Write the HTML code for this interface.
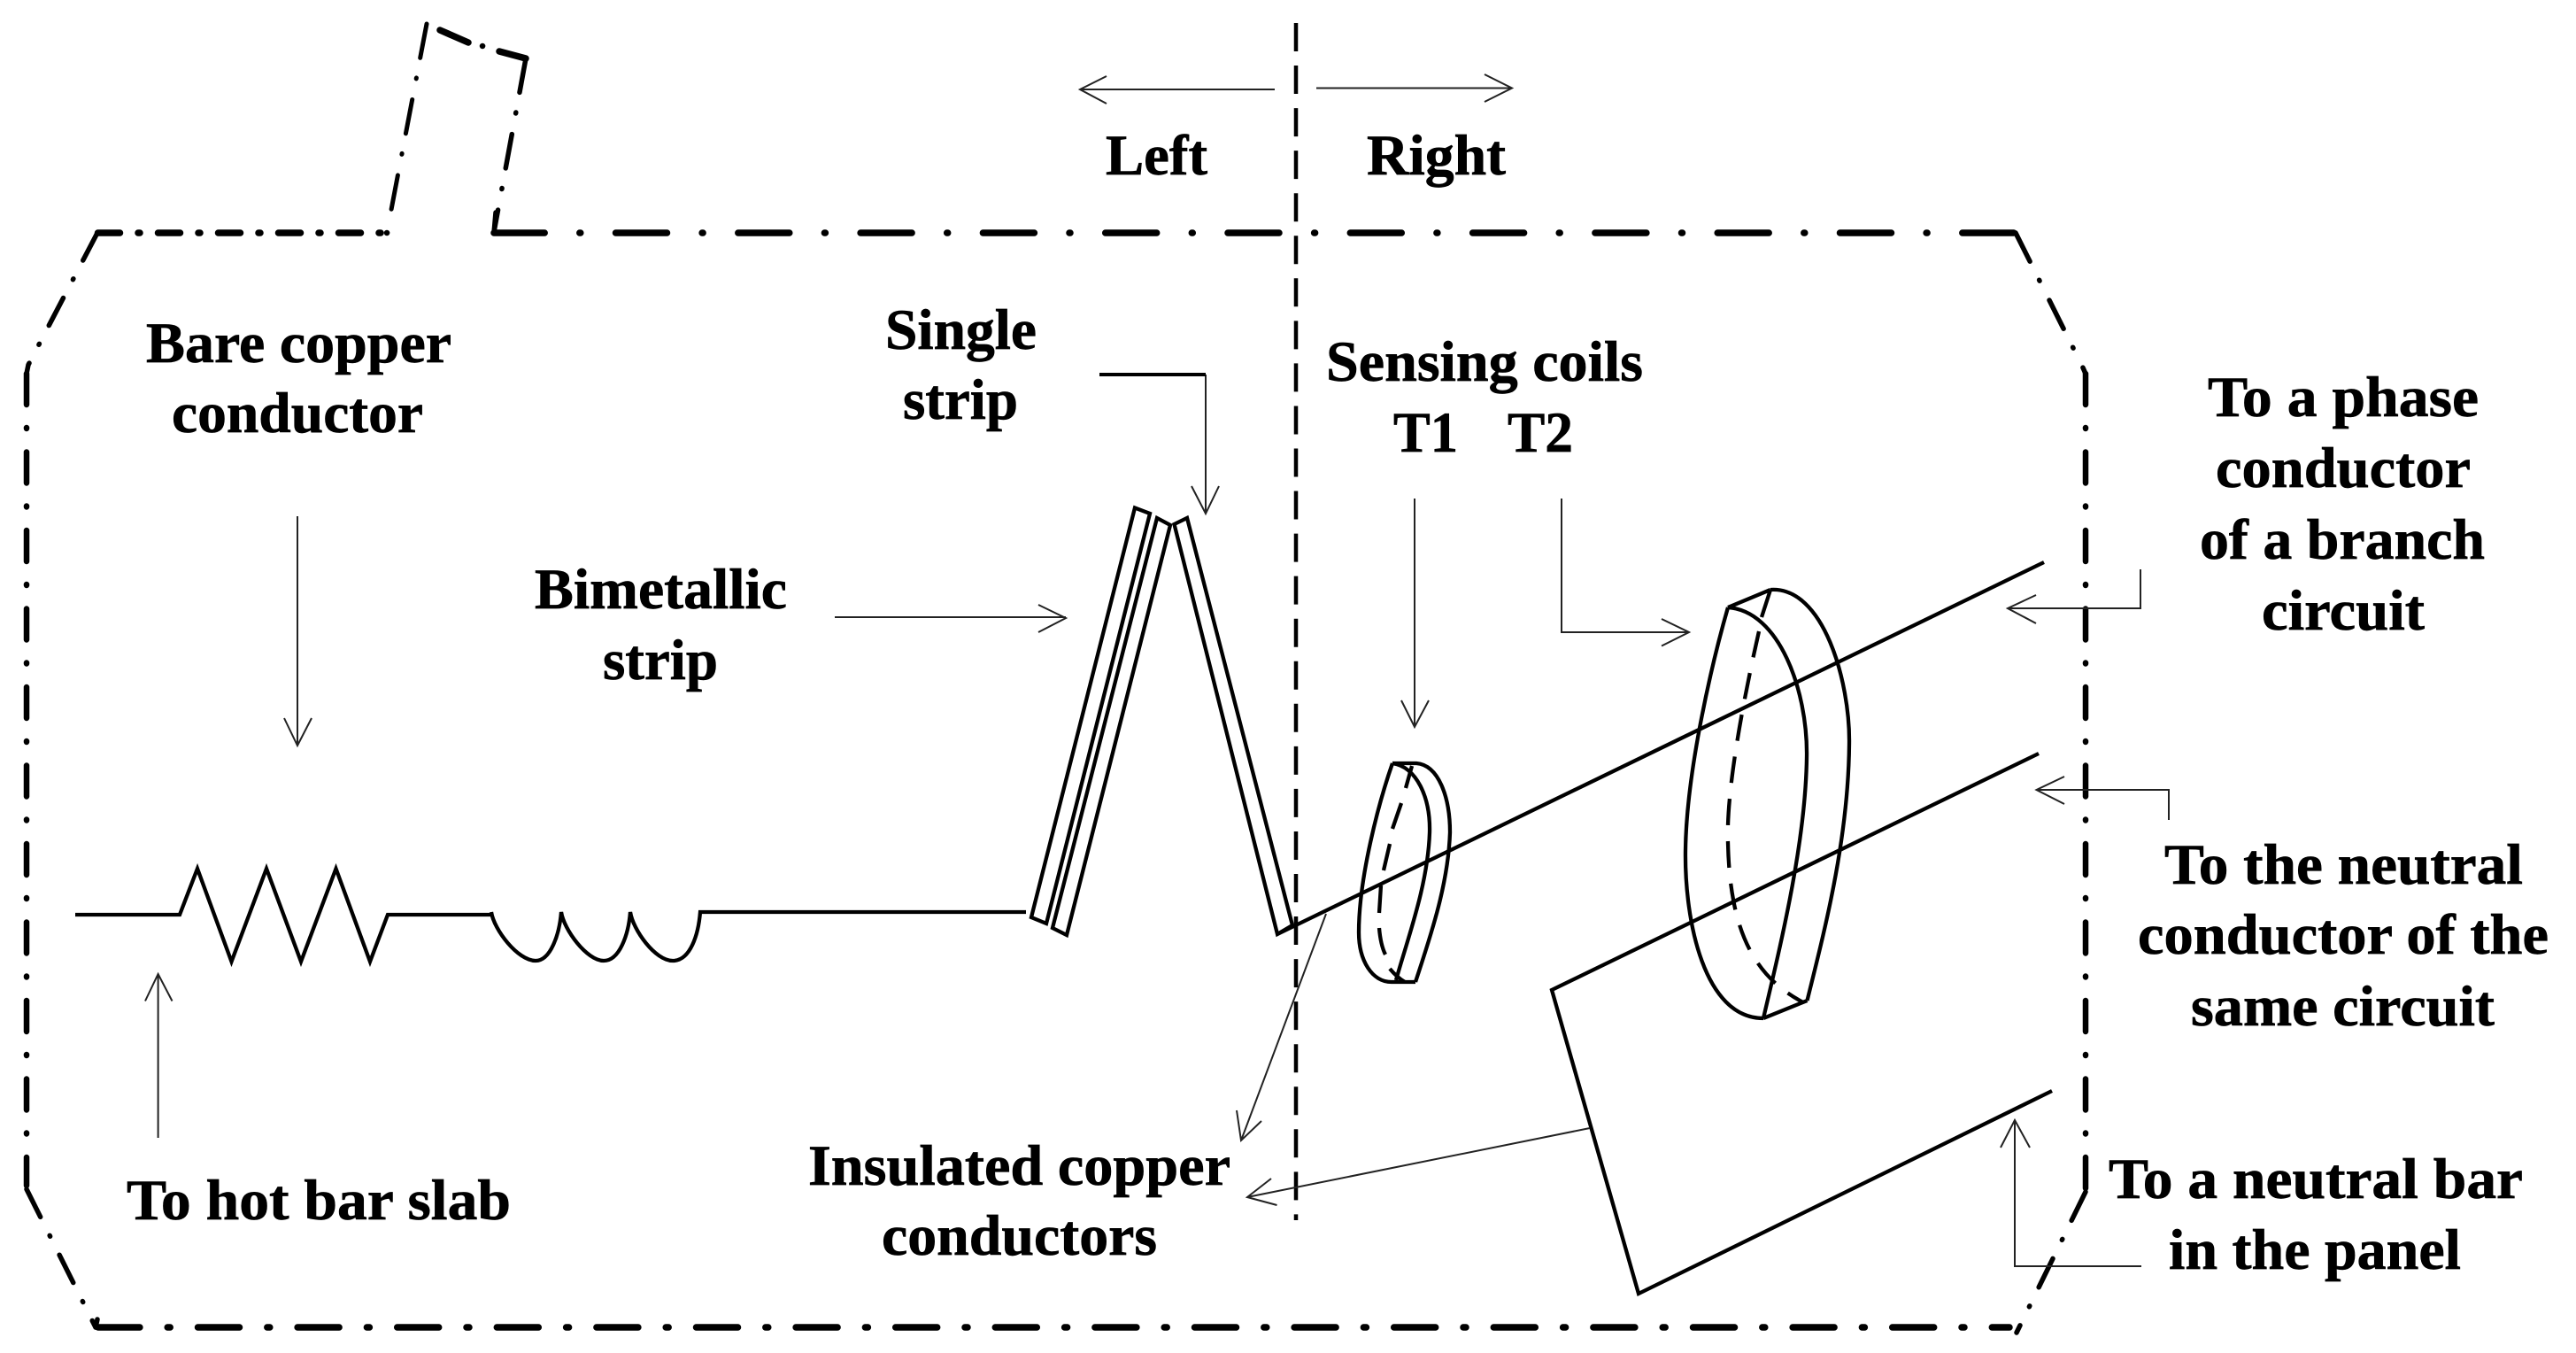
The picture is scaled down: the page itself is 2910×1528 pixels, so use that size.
<!DOCTYPE html>
<html lang="en">
<head>
<meta charset="utf-8">
<title>Diagram</title>
<style>
html,body{margin:0;padding:0;background:#fff;}
svg{display:block;}
text{font-family:"Liberation Serif",serif;font-weight:bold;font-size:65px;fill:#000;stroke:#000;stroke-width:0.7;}
.w{fill:none;stroke:#000;stroke-width:4.3;stroke-linejoin:miter;}
.a{fill:none;stroke:#222;stroke-width:2;}
.f{fill:none;stroke:#000;stroke-linecap:round;}
</style>
</head>
<body>
<svg xmlns="http://www.w3.org/2000/svg" width="2910" height="1528" viewBox="0 0 2910 1528">
<rect width="2910" height="1528" fill="#fff"/>

<!-- enclosure -->
<g class="f">
<path d="M558 263H2277" stroke-width="7.5" stroke-dasharray="58 39.6 1 39.7" stroke-dashoffset="0.8"/>
<path d="M110.5 263H430" stroke-width="7.5" stroke-dasharray="25 20.5 2 20.5"/>
<path d="M437 263h0.1" stroke-width="6.5"/>
<path d="M110.9 1499H2270" stroke-width="7.5" stroke-dasharray="47 31.3 3 31.3"/>
<path d="M108 1499L110 1490" stroke-width="5.5"/>
<path d="M30 422V1339" stroke-width="6.5" stroke-dasharray="35 26 1 26.5"/>
<path d="M2356 422V1346" stroke-width="6.5" stroke-dasharray="35 26 1 26.5"/>
<path d="M110 263L32 412L30 422" stroke-width="5.5" stroke-dasharray="35 23.5 1 23.5"/>
<path d="M30 1343L108 1499" stroke-width="5.5" stroke-dasharray="35 23.5 1 23.5"/>
<path d="M2277 263L2352 413L2356 422" stroke-width="5.5" stroke-dasharray="36 23.5 1 24.5"/>
<path d="M2356 1346L2278 1505" stroke-width="5.5" stroke-dasharray="36 23.5 1 23.5"/>
<path d="M482 27L441 242" stroke-width="5" stroke-dasharray="39 23 1 24"/>
<path d="M594 66L558 262" stroke-width="5.5" stroke-dasharray="39 23 1 24"/>
<path d="M497 34L529 48" stroke-width="7.5"/>
<path d="M545 52h0.1" stroke-width="6.5"/>
<path d="M564 58L594 66" stroke-width="7.5"/>
<path d="M558 263L560 240" stroke-width="5.5"/>
</g>

<!-- centre dashed line -->
<path d="M1464 26V1378" fill="none" stroke="#000" stroke-width="4.5" stroke-dasharray="32 16.05"/>

<!-- conductor -->
<path class="w" d="M85 1033H203L223 981L261.5 1086L301 981L340 1086L379.5 981L418 1086L438 1033H555"/>
<path class="w" d="M555 1030C558 1050 585 1085 605 1085C622 1085 632 1055 634 1030C637 1050 663 1085 682 1085C700 1085 710 1055 712 1030C715 1050 740 1085 760 1085C780 1085 789 1055 791 1030H1159"/>

<!-- strips -->
<path class="w" d="M1282 573.5L1299 580L1182 1043L1165 1036Z"/>
<path class="w" d="M1307 585L1322 593L1205 1056L1189 1048Z"/>
<path class="w" d="M1326.5 592L1341 585L1460 1045L1443 1055Z"/>

<!-- wires -->
<path class="w" d="M1443 1055L2309 635"/>
<path class="w" d="M2303 851L1753 1118L1851 1461L2318 1232"/>

<!-- small coil -->
<path class="w" d="M1573 862C1558 905 1535 990 1535 1053C1535 1085 1550 1109 1572 1109H1599"/>
<path class="w" d="M1573 862C1600 866 1616 900 1615 940C1613 1000 1590 1060 1577 1107"/>
<path class="w" d="M1573 862H1600C1625 864 1638 900 1638 940C1636 1000 1615 1060 1599 1109"/>
<path class="w" d="M1595 865L1588 890M1583 907L1573 936M1570 953L1563 983M1560 1000L1558 1031M1558 1048C1559 1060 1561 1070 1565 1078M1570 1094C1575 1100 1580 1105 1587 1109"/>

<!-- big coil -->
<path class="w" d="M1952 686C1935 745 1905 870 1904 961C1903 1040 1925 1150 1992 1150"/>
<path class="w" d="M1952 686C2010 690 2042 780 2041 854C2040 950 2012 1065 1992 1150"/>
<path class="w" d="M2000 666C2060 662 2090 770 2089 840C2088 950 2060 1055 2041.5 1130"/>
<path class="w" d="M1952 686L2000 666M1992 1150L2041.5 1130M2000 666L1990 697"/>
<path class="w" stroke-dasharray="30 18" d="M1987 713C1965 810 1950 900 1952 952C1954 1040 1975 1100 2037 1132"/>

<!-- arrows -->
<g class="a">
<path d="M1440 101H1220M1250 86L1220 101L1250 117"/>
<path d="M1487 99.5H1708M1677 84L1708 99.5L1677 115"/>
<path d="M336 583V842M321 811L336 842L352 811"/>
<path d="M178.6 1285V1100M164 1130.5L178.6 1100L194.5 1130.5"/>
<path d="M1362 423V580M1346 549L1362 580L1377 549"/>
<path d="M943 697H1204M1173 683L1204 698L1173 714"/>
<path d="M1598 563V821M1583 791L1598 821L1614 791"/>
<path d="M1764 563V714H1908M1877 699L1908 714L1877 729.5"/>
<path d="M2418 643V687H2268M2300 672L2268 687L2300 704"/>
<path d="M2450 926V892H2300.5M2332 877L2300.5 892L2332 908"/>
<path d="M2419 1430H2276V1265M2260 1296L2276 1265L2293 1296"/>
<path d="M1498 1032L1402 1288M1397 1254L1402 1288L1425 1266"/>
<path d="M1796 1274L1409 1352M1436 1331L1409 1352L1442.5 1361"/>
</g>
<path d="M1242 423H1362" fill="none" stroke="#000" stroke-width="4"/>

<!-- labels -->
<text x="1249" y="197" textLength="115" lengthAdjust="spacingAndGlyphs">Left</text>
<text x="1544" y="197" textLength="157" lengthAdjust="spacingAndGlyphs">Right</text>
<text x="165" y="409" textLength="345" lengthAdjust="spacingAndGlyphs">Bare copper</text>
<text x="194" y="488" textLength="284" lengthAdjust="spacingAndGlyphs">conductor</text>
<text x="143" y="1377" textLength="434" lengthAdjust="spacingAndGlyphs">To hot bar slab</text>
<text x="1000" y="394" textLength="171" lengthAdjust="spacingAndGlyphs">Single</text>
<text x="1020" y="473" textLength="130" lengthAdjust="spacingAndGlyphs">strip</text>
<text x="604" y="687" textLength="285" lengthAdjust="spacingAndGlyphs">Bimetallic</text>
<text x="681" y="767" textLength="130" lengthAdjust="spacingAndGlyphs">strip</text>
<text x="1498" y="430" textLength="358" lengthAdjust="spacingAndGlyphs">Sensing coils</text>
<text x="1574" y="510" textLength="73" lengthAdjust="spacingAndGlyphs">T1</text>
<text x="1703" y="510" textLength="74" lengthAdjust="spacingAndGlyphs">T2</text>
<text x="913" y="1338" textLength="477" lengthAdjust="spacingAndGlyphs">Insulated copper</text>
<text x="996" y="1417" textLength="311" lengthAdjust="spacingAndGlyphs">conductors</text>
<text x="2494" y="470" textLength="306" lengthAdjust="spacingAndGlyphs">To a phase</text>
<text x="2503" y="550" textLength="288" lengthAdjust="spacingAndGlyphs">conductor</text>
<text x="2485" y="631" textLength="322" lengthAdjust="spacingAndGlyphs">of a branch</text>
<text x="2555" y="711" textLength="184" lengthAdjust="spacingAndGlyphs">circuit</text>
<text x="2445" y="998" textLength="405" lengthAdjust="spacingAndGlyphs">To the neutral</text>
<text x="2415" y="1077" textLength="464" lengthAdjust="spacingAndGlyphs">conductor of the</text>
<text x="2475" y="1158" textLength="343" lengthAdjust="spacingAndGlyphs">same circuit</text>
<text x="2382" y="1353" textLength="468" lengthAdjust="spacingAndGlyphs">To a neutral bar</text>
<text x="2450" y="1433" textLength="330" lengthAdjust="spacingAndGlyphs">in the panel</text>
</svg>
</body>
</html>
